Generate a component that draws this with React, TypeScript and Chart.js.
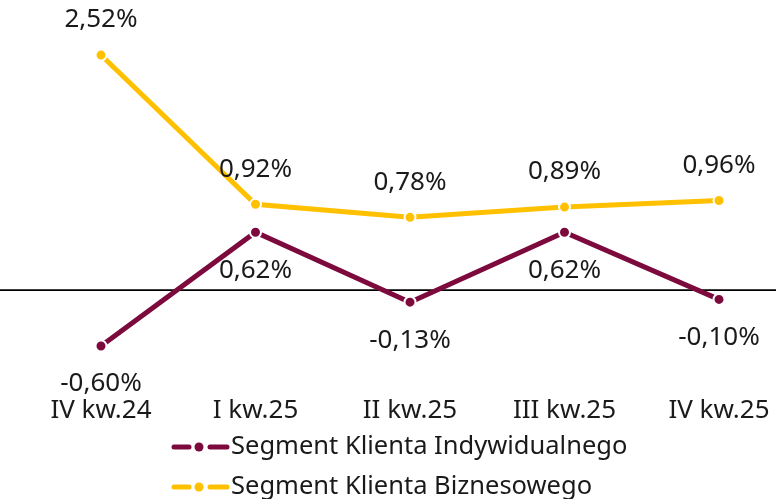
import React, { useEffect, useRef } from "react";
import { Chart, registerables } from "chart.js";

Chart.register(...registerables);

const categories = ["IV kw.24", "I kw.25", "II kw.25", "III kw.25", "IV kw.25"];
const individualValues = [-0.6, 0.62, -0.13, 0.62, -0.1];
const businessValues = [2.52, 0.92, 0.78, 0.89, 0.96];
const seriesNames = ["Segment Klienta Indywidualnego", "Segment Klienta Biznesowego"];

const MAROON = "#7D0A3C";
const YELLOW = "#FFC000";
const FONT = "'Noto Sans', sans-serif";
const CANVAS_W = 800;

const fmt = (v: number) => v.toFixed(2).replace(".", ",") + "%";

const zeroLine = {
  id: "zeroLine",
  beforeDatasetsDraw(chart: any) {
    const y = chart.scales.y.getPixelForValue(0);
    const ctx = chart.ctx;
    ctx.save();
    ctx.strokeStyle = "#000";
    ctx.lineWidth = 1.8;
    ctx.beginPath();
    ctx.moveTo(0, y);
    ctx.lineTo(chart.width, y);
    ctx.stroke();
    ctx.restore();
  },
};

const dataLabels = {
  id: "dataLabels",
  afterDatasetsDraw(chart: any) {
    const ctx = chart.ctx;
    ctx.save();
    ctx.font = `26px ${FONT}`;
    ctx.fillStyle = "#1a1a1a";
    ctx.textAlign = "center";
    ctx.textBaseline = "middle";
    chart.data.datasets.forEach((ds: any, i: number) => {
      const meta = chart.getDatasetMeta(i);
      const above = ds.labelPos === "above";
      meta.data.forEach((pt: any, j: number) => {
        const v = ds.data[j];
        const y = above ? pt.y - 35 : pt.y + 38;
        ctx.fillText(fmt(v), pt.x, y);
      });
    });
    ctx.restore();
  },
};

const customLegend = {
  id: "customLegend",
  afterDraw(chart: any) {
    const ctx = chart.ctx;
    ctx.save();
    ctx.font = `25.5px ${FONT}`;
    ctx.textBaseline = "middle";
    ctx.textAlign = "left";
    const x0 = 172;
    const rows = [447, 487];
    chart.data.datasets.forEach((ds: any, i: number) => {
      const y = rows[i];
      ctx.strokeStyle = ds.borderColor;
      ctx.lineWidth = 5;
      ctx.lineCap = "round";
      ctx.beginPath();
      ctx.moveTo(x0 + 2, y);
      ctx.lineTo(x0 + 17, y);
      ctx.moveTo(x0 + 38, y);
      ctx.lineTo(x0 + 55, y);
      ctx.stroke();
      ctx.fillStyle = ds.borderColor;
      ctx.beginPath();
      ctx.arc(x0 + 27, y, 4.5, 0, Math.PI * 2);
      ctx.fill();
      ctx.fillStyle = "#1a1a1a";
      ctx.fillText(ds.label, x0 + 59, y);
    });
    ctx.restore();
  },
};

export default function App() {
  const ref = useRef<HTMLCanvasElement>(null);
  useEffect(() => {
    if (!ref.current) return;
    const chart = new Chart(ref.current, {
      type: "line",
      data: {
        labels: categories,
        datasets: [
          {
            label: seriesNames[0],
            data: individualValues,
            borderColor: MAROON,
            backgroundColor: MAROON,
            borderWidth: 5,
            pointRadius: 5.5,
            pointBorderColor: "#fff",
            pointBorderWidth: 2,
            pointBackgroundColor: MAROON,
            tension: 0,
            labelPos: "below",
          } as any,
          {
            label: seriesNames[1],
            data: businessValues,
            borderColor: YELLOW,
            backgroundColor: YELLOW,
            borderWidth: 5,
            pointRadius: 5.5,
            pointBorderColor: "#fff",
            pointBorderWidth: 2,
            pointBackgroundColor: YELLOW,
            tension: 0,
            labelPos: "above",
          } as any,
        ],
      },
      options: {
        animation: false,
        responsive: false,
        layout: { padding: { left: 101, right: CANVAS_W - 719, top: 10.3, bottom: 60.5 } },
        plugins: { legend: { display: false }, tooltip: { enabled: false } },
        scales: {
          x: {
            offset: false,
            grid: { display: false, drawTicks: false },
            border: { display: false },
            ticks: { font: { family: FONT, size: 26 }, color: "#1a1a1a", padding: 12, maxRotation: 0 },
          },
          y: { display: false, min: -1, max: 3 },
        },
      },
      plugins: [zeroLine, dataLabels, customLegend],
    });
    return () => chart.destroy();
  }, []);
  return (
    <div style={{ position: "fixed", left: 0, top: 0, width: 776, height: 499, overflow: "hidden", background: "#fff" }}>
      <canvas ref={ref} width={CANVAS_W} height={499} style={{ width: CANVAS_W, height: 499, display: "block" }} />
    </div>
  );
}
